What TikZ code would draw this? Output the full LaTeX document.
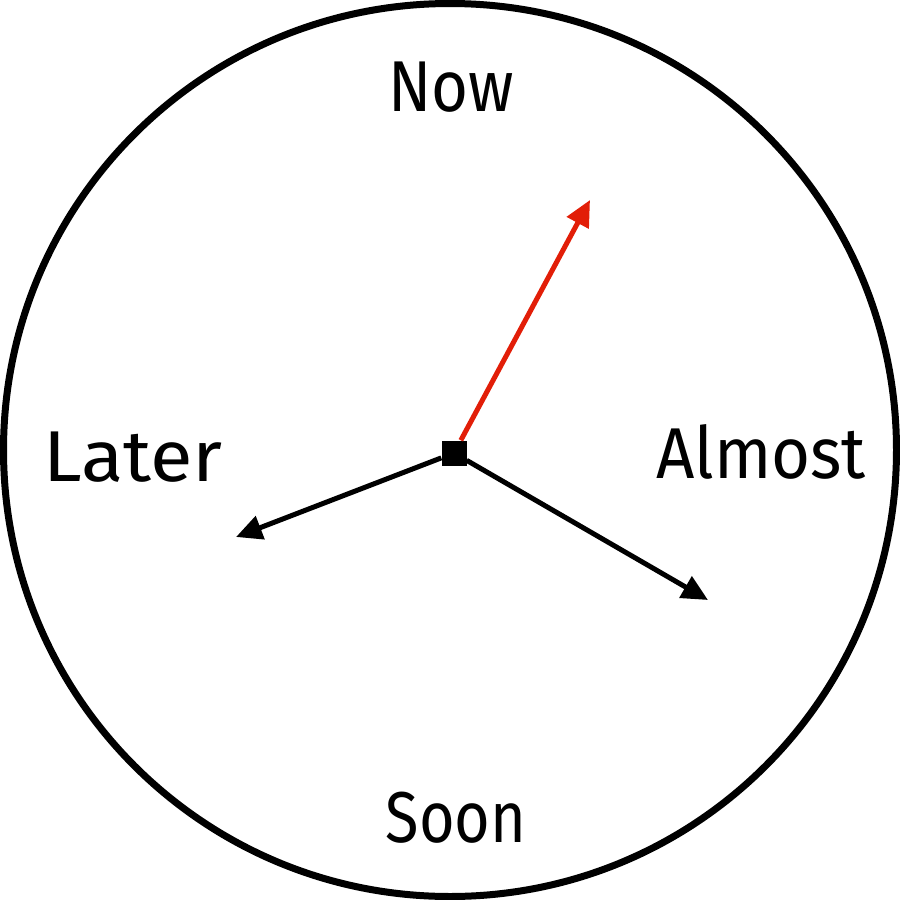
\documentclass[tikz,border=0pt]{standalone}
\usepackage{fontspec}
\setmainfont{Fira Sans}
\usetikzlibrary{arrows.meta}
\definecolor{handred}{RGB}{226,30,8}
\begin{document}
\begin{tikzpicture}[x=1pt,y=-1pt,
  lbl/.style={font=\fontsize{72}{72}\selectfont, inner sep=0pt},
  hand/.style={line width=5pt, -{Triangle[length=26pt,width=24pt]}},
]
\useasboundingbox (0,0) rectangle (900,900);
\draw[line width=7pt] (450,450) circle (446.5);
\node[lbl, xscale=0.88] (now) at (451,87) {Now};
\node[lbl, xscale=1.08] (later) at (133,457) {Later};
\node[lbl, xscale=0.93] (almost) at (761,452) {Almost};
\node[lbl, xscale=0.85] (soon) at (456,818) {Soon};
\node[fill=black, minimum size=25pt, inner sep=0pt] (c) at (454,453) {};
\coordinate (tr) at (590,200);
\coordinate (tl) at (236,537);
\coordinate (tb) at (708,600);
\draw[hand, handred] (c) -- (tr);
\draw[hand] (c) -- (tl);
\draw[hand] (c) -- (tb);
\end{tikzpicture}
\end{document}
